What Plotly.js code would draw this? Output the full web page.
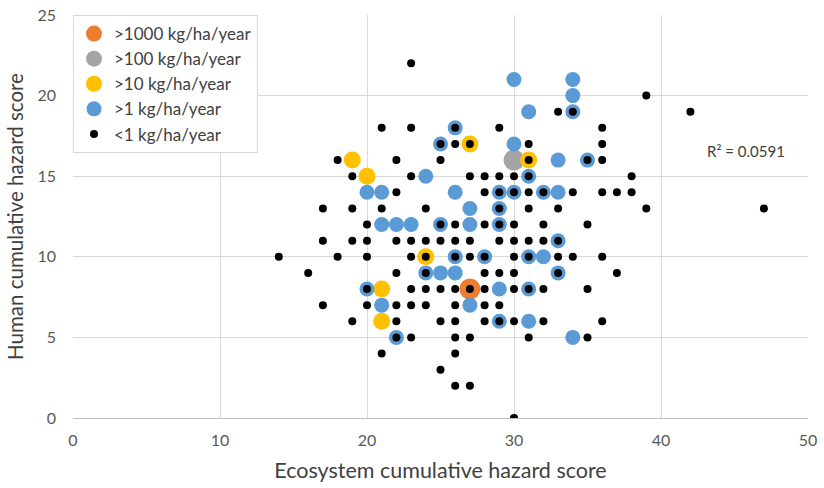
<!DOCTYPE html>
<html>
<head>
<meta charset="utf-8">
<script src="https://cdn.plot.ly/plotly-3.0.1.min.js"></script>
<style>html,body{margin:0;padding:0;background:#fff;}#chart{width:824px;height:488px;}</style>
</head>
<body>
<div id="chart"></div>
<script>
// Orange: >1000 kg/ha/year
const orangeX = [27];
const orangeY = [8];
// Gray: >100 kg/ha/year
const grayX = [30];
const grayY = [16];
// Yellow: >10 kg/ha/year
const yellowX = [19, 20, 27, 31, 24, 21, 21];
const yellowY = [16, 15, 17, 16, 10, 8, 6];
// Blue: >1 kg/ha/year
const blueX = [30, 34, 34, 31, 34, 26, 25, 30, 24, 33, 35, 31, 20, 21, 26, 29, 30, 32, 33, 27, 29, 21, 22, 23, 25, 27, 29, 33, 26, 28, 31, 32, 24, 25, 26, 33, 20, 29, 31, 21, 27, 29, 31, 22, 34];
const blueY = [21, 21, 20, 19, 19, 18, 17, 17, 15, 16, 16, 15, 14, 14, 14, 14, 14, 14, 14, 13, 13, 12, 12, 12, 12, 12, 12, 11, 10, 10, 10, 10, 9, 9, 9, 9, 8, 8, 8, 7, 7, 6, 6, 5, 5];
// Black: <1 kg/ha/year
const blackX = [
  23,
  39,
  33, 34, 42,
  21, 23, 26, 29, 36,
  25, 26, 27, 31, 36,
  18, 22, 25, 31, 35, 36,
  19, 23, 27, 28, 29, 30, 31, 38,
  22, 28, 29, 30, 31, 32, 34, 36, 37, 38,
  17, 19, 21, 24, 29, 31, 33, 39, 47,
  20, 25, 26, 28, 29, 30, 32, 35,
  17, 19, 20, 22, 23, 24, 25, 26, 27, 29, 30, 31, 32, 33,
  14, 18, 20, 23, 24, 26, 27, 28, 30, 31, 33, 34, 36,
  16, 22, 24, 28, 29, 30, 33, 37,
  20, 23, 24, 25, 26, 27, 28, 30, 31, 32, 35,
  17, 20, 22, 23, 24, 26, 28, 29,
  19, 22, 25, 26, 28, 29, 30, 32, 36,
  22, 23, 26, 27, 31, 35,
  21, 26,
  25,
  26, 27,
  30
];
const blackY = [
  22,
  20,
  19, 19, 19,
  18, 18, 18, 18, 18,
  17, 17, 17, 17, 17,
  16, 16, 16, 16, 16, 16,
  15, 15, 15, 15, 15, 15, 15, 15,
  14, 14, 14, 14, 14, 14, 14, 14, 14, 14,
  13, 13, 13, 13, 13, 13, 13, 13, 13,
  12, 12, 12, 12, 12, 12, 12, 12,
  11, 11, 11, 11, 11, 11, 11, 11, 11, 11, 11, 11, 11, 11,
  10, 10, 10, 10, 10, 10, 10, 10, 10, 10, 10, 10, 10,
  9, 9, 9, 9, 9, 9, 9, 9,
  8, 8, 8, 8, 8, 8, 8, 8, 8, 8, 8,
  7, 7, 7, 7, 7, 7, 7, 7,
  6, 6, 6, 6, 6, 6, 6, 6, 6,
  5, 5, 5, 5, 5, 5,
  4, 4,
  3,
  2, 2,
  0
];
const seriesNames = [">1000 kg/ha/year", ">100 kg/ha/year", ">10 kg/ha/year", ">1 kg/ha/year", "<1 kg/ha/year"];
const xTicks = [0, 10, 20, 30, 40, 50];
const yTicks = [0, 5, 10, 15, 20, 25];
const r2Label = "R² = 0.0591";

const FONT = "Lato, 'Open Sans', sans-serif";
function mk(x, y, name, color, size) {
  return {type: 'scatter', mode: 'markers', x: x, y: y, name: name,
    marker: {color: color, size: size, line: {width: 0}}, hoverinfo: 'x+y'};
}
const data = [
  mk(orangeX, orangeY, seriesNames[0], '#ED7D31', 21),
  mk(grayX, grayY, seriesNames[1], '#A5A5A5', 21),
  mk(yellowX, yellowY, seriesNames[2], '#FFC000', 17),
  mk(blueX, blueY, seriesNames[3], '#5B9BD5', 15),
  mk(blackX, blackY, seriesNames[4], '#000000', 8)
];
const layout = {
  width: 824, height: 488,
  margin: {l: 73, r: 16, t: 15, b: 70},
  paper_bgcolor: '#ffffff', plot_bgcolor: '#ffffff',
  font: {family: FONT, color: '#595959', size: 16},
  showlegend: true,
  legend: {x: 0, y: 1, xanchor: 'left', yanchor: 'top', bgcolor: '#ffffff',
    bordercolor: '#d9d9d9', borderwidth: 1, font: {family: FONT, size: 17, color: '#404040'},
    tracegroupgap: 0, itemwidth: 30, entrywidth: 170, entrywidthmode: 'pixels'},
  xaxis: {range: [0, 50], tickvals: xTicks, ticktext: xTicks.map(String), showgrid: true, gridcolor: '#d9d9d9',
    zeroline: false, showline: true, linecolor: '#bfbfbf', linewidth: 1, ticks: '', ticklabelstandoff: 8,
    tickfont: {family: FONT, size: 16, color: '#595959'},
    title: {text: 'Ecosystem cumulative hazard score', font: {family: FONT, size: 21.5, color: '#404040'}, standoff: 14},
    fixedrange: true},
  yaxis: {range: [0, 25], tickvals: yTicks, ticktext: yTicks.map(String), showgrid: true, gridcolor: '#d9d9d9',
    zeroline: false, showline: false, ticks: '', ticklabelstandoff: 16,
    tickfont: {family: FONT, size: 16, color: '#595959'},
    title: {text: 'Human cumulative hazard score', font: {family: FONT, size: 20.5, color: '#404040'}, standoff: 8},
    fixedrange: true},
  annotations: [{text: r2Label, xref: 'paper', yref: 'paper', x: 0.915, y: 0.662, showarrow: false,
    font: {family: FONT, size: 15, color: '#404040'}, xanchor: 'center', yanchor: 'middle'}]
};
Plotly.newPlot('chart', data, layout, {displayModeBar: false, staticPlot: true});
</script>
</body>
</html>
